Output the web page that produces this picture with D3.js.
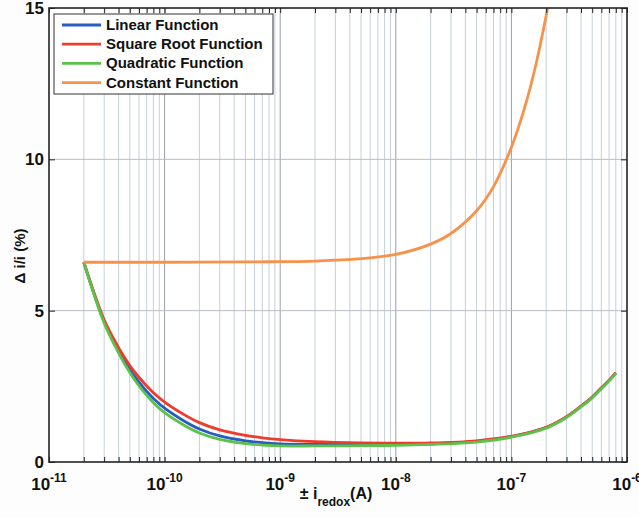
<!DOCTYPE html>
<html>
<head>
<meta charset="utf-8">
<script src="https://cdn.jsdelivr.net/npm/d3@7"></script>
<style>
  body { margin: 0; background: #fdfdfd; }
  svg { display: block; }
  text { font-family: "Liberation Sans", Arial, sans-serif; font-weight: bold; fill: #111; }
</style>
</head>
<body>
<svg id="chart" width="639" height="517"></svg>
<script>
// Redox current (A) at which each curve is evaluated
const current = [2e-11, 3e-11, 4e-11, 5e-11, 6e-11, 7e-11, 8e-11, 1e-10, 1.5e-10, 2e-10, 3e-10,
                 5e-10, 7e-10, 1e-9, 2e-9, 5e-9, 1e-8, 2e-8, 5e-8, 1e-7, 2e-7, 3e-7, 4e-7,
                 5e-7, 6e-7, 7e-7, 8e-7];

// Relative error (%) for each fitting function
const linearFn    = [6.6, 4.64, 3.68, 3.06, 2.64, 2.33, 2.10, 1.78, 1.34, 1.09, 0.86,
                     0.70, 0.64, 0.60, 0.58, 0.58, 0.58, 0.60, 0.68, 0.84, 1.14, 1.49, 1.84,
                     2.14, 2.44, 2.69, 2.94];
const sqrtFn      = [6.6, 4.70, 3.78, 3.19, 2.80, 2.51, 2.29, 1.98, 1.55, 1.30, 1.06,
                     0.88, 0.80, 0.74, 0.67, 0.63, 0.62, 0.63, 0.70, 0.85, 1.15, 1.50, 1.85,
                     2.15, 2.45, 2.70, 2.95];
const quadraticFn = [6.6, 4.59, 3.60, 2.96, 2.52, 2.20, 1.96, 1.63, 1.20, 0.96, 0.75,
                     0.61, 0.56, 0.53, 0.53, 0.54, 0.55, 0.58, 0.66, 0.82, 1.12, 1.47, 1.82,
                     2.12, 2.42, 2.68, 2.93];

// Constant function rises steeply at high current
const constCurrent = [2e-11, 1e-10, 5e-10, 1e-9, 2e-9, 5e-9, 1e-8, 2e-8, 3e-8, 5e-8, 7e-8,
                      1e-7, 1.3e-7, 1.6e-7, 2e-7, 2.1e-7];
const constantFn   = [6.6, 6.6, 6.61, 6.62, 6.64, 6.72, 6.86, 7.2, 7.55, 8.3, 9.1,
                      10.4, 11.7, 13.0, 14.75, 15.2];

const seriesNames  = ["Linear Function", "Square Root Function", "Quadratic Function", "Constant Function"];
const seriesColors = ["#2a5cc0", "#ef3b2b", "#5cc24a", "#f8924a"];

// Axis tick definitions
const xDecades = [-11, -10, -9, -8, -7, -6];
const yTicks   = [0, 5, 10, 15];

const svg = d3.select("#chart");
const plotLeft = 49, plotRight = 627, plotTop = 8, plotBottom = 462;

const x = d3.scaleLog().domain([1e-11, 1e-6]).range([plotLeft, plotRight]);
const y = d3.scaleLinear().domain([0, 15]).range([plotBottom, plotTop]);

svg.append("defs").append("clipPath").attr("id", "plot-clip")
  .append("rect").attr("x", plotLeft).attr("y", plotTop)
  .attr("width", plotRight - plotLeft).attr("height", plotBottom - plotTop);

// Minor tick positions (2..9 within each decade)
const minorTicks = [];
xDecades.slice(0, -1).forEach(d => {
  for (let m = 2; m <= 9; m++) minorTicks.push(m * Math.pow(10, d));
});
const majorTicks = xDecades.map(d => Math.pow(10, d));

// Plot background
svg.append("rect").attr("x", plotLeft).attr("y", plotTop)
  .attr("width", plotRight - plotLeft).attr("height", plotBottom - plotTop).attr("fill", "#ffffff");

// Grid
const grid = svg.append("g");
grid.selectAll("line.minor").data(minorTicks).join("line")
  .attr("x1", d => x(d)).attr("x2", d => x(d))
  .attr("y1", plotTop).attr("y2", plotBottom)
  .attr("stroke", "#c6cfdc").attr("stroke-width", 1);
grid.selectAll("line.major").data(majorTicks.slice(1, -1)).join("line")
  .attr("x1", d => x(d)).attr("x2", d => x(d))
  .attr("y1", plotTop).attr("y2", plotBottom)
  .attr("stroke", "#9a9ea6").attr("stroke-width", 1);
grid.selectAll("line.h").data(yTicks.slice(1, -1)).join("line")
  .attr("x1", plotLeft).attr("x2", plotRight)
  .attr("y1", d => y(d)).attr("y2", d => y(d))
  .attr("stroke", "#b8bcc4").attr("stroke-width", 1);

// Curves
const line = d3.line()
  .x(d => x(d[0])).y(d => y(d[1]))
  .curve(d3.curveCatmullRom.alpha(0.5));

const curves = svg.append("g").attr("clip-path", "url(#plot-clip)");
const lowerSeries = [linearFn, sqrtFn, quadraticFn];
lowerSeries.forEach((vals, i) => {
  curves.append("path")
    .datum(current.map((c, j) => [c, vals[j]]))
    .attr("d", line)
    .attr("fill", "none")
    .attr("stroke", seriesColors[i])
    .attr("stroke-width", 2.8)
    .attr("stroke-linejoin", "round");
});
curves.append("path")
  .datum(constCurrent.map((c, j) => [c, constantFn[j]]))
  .attr("d", line)
  .attr("fill", "none")
  .attr("stroke", seriesColors[3])
  .attr("stroke-width", 2.8);

// Axes with inward ticks
const tickAll = majorTicks.concat(minorTicks);
svg.append("g").attr("transform", `translate(0,${plotBottom})`)
  .call(d3.axisBottom(x).tickValues(tickAll).tickSize(-5).tickFormat(""))
  .call(g => g.select(".domain").remove());
svg.append("g").attr("transform", `translate(0,${plotTop})`)
  .call(d3.axisTop(x).tickValues(tickAll).tickSize(-5).tickFormat(""))
  .call(g => g.select(".domain").remove());
svg.append("g").attr("transform", `translate(${plotLeft},0)`)
  .call(d3.axisLeft(y).tickValues(yTicks).tickSize(-6).tickFormat(""))
  .call(g => g.select(".domain").remove());
svg.append("g").attr("transform", `translate(${plotRight},0)`)
  .call(d3.axisRight(y).tickValues(yTicks).tickSize(-6).tickFormat(""))
  .call(g => g.select(".domain").remove());
svg.selectAll(".tick line").attr("stroke", "#222").attr("stroke-width", 1);

// Frame
svg.append("rect").attr("x", plotLeft).attr("y", plotTop)
  .attr("width", plotRight - plotLeft).attr("height", plotBottom - plotTop)
  .attr("fill", "none").attr("stroke", "#222").attr("stroke-width", 1.6);

// Y tick labels
svg.selectAll("text.ylab").data(yTicks).join("text")
  .attr("x", plotLeft - 5).attr("y", d => y(d) + 6)
  .attr("text-anchor", "end").attr("font-size", 17)
  .text(d => d);

// X tick labels: 10 with superscript exponent
xDecades.forEach(d => {
  const t = svg.append("text")
    .attr("x", x(Math.pow(10, d))).attr("y", 490)
    .attr("text-anchor", "middle").attr("font-size", 17);
  t.append("tspan").text("10");
  t.append("tspan").attr("dy", -8).attr("font-size", 12).text(String(d));
});

// Axis titles
const xt = svg.append("text").attr("x", 336).attr("y", 499)
  .attr("text-anchor", "middle").attr("font-size", 16);
xt.append("tspan").text("± i");
xt.append("tspan").attr("dy", 7).attr("font-size", 12).text("redox");
xt.append("tspan").attr("dy", -7).text("(A)");

svg.append("text")
  .attr("transform", "translate(25,256) rotate(-90)")
  .attr("text-anchor", "middle").attr("font-size", 15)
  .text("Δ i/i (%)");

// Legend
const lg = svg.append("g");
lg.append("rect").attr("x", 54).attr("y", 14).attr("width", 219).attr("height", 80)
  .attr("fill", "#ffffff").attr("stroke", "#333").attr("stroke-width", 1);
seriesNames.forEach((name, i) => {
  const yy = 25 + i * 19.2;
  lg.append("line").attr("x1", 62).attr("x2", 101).attr("y1", yy).attr("y2", yy)
    .attr("stroke", seriesColors[i]).attr("stroke-width", 2.8);
  lg.append("text").attr("x", 106).attr("y", yy + 5).attr("font-size", 15).text(name);
});
</script>
</body>
</html>
